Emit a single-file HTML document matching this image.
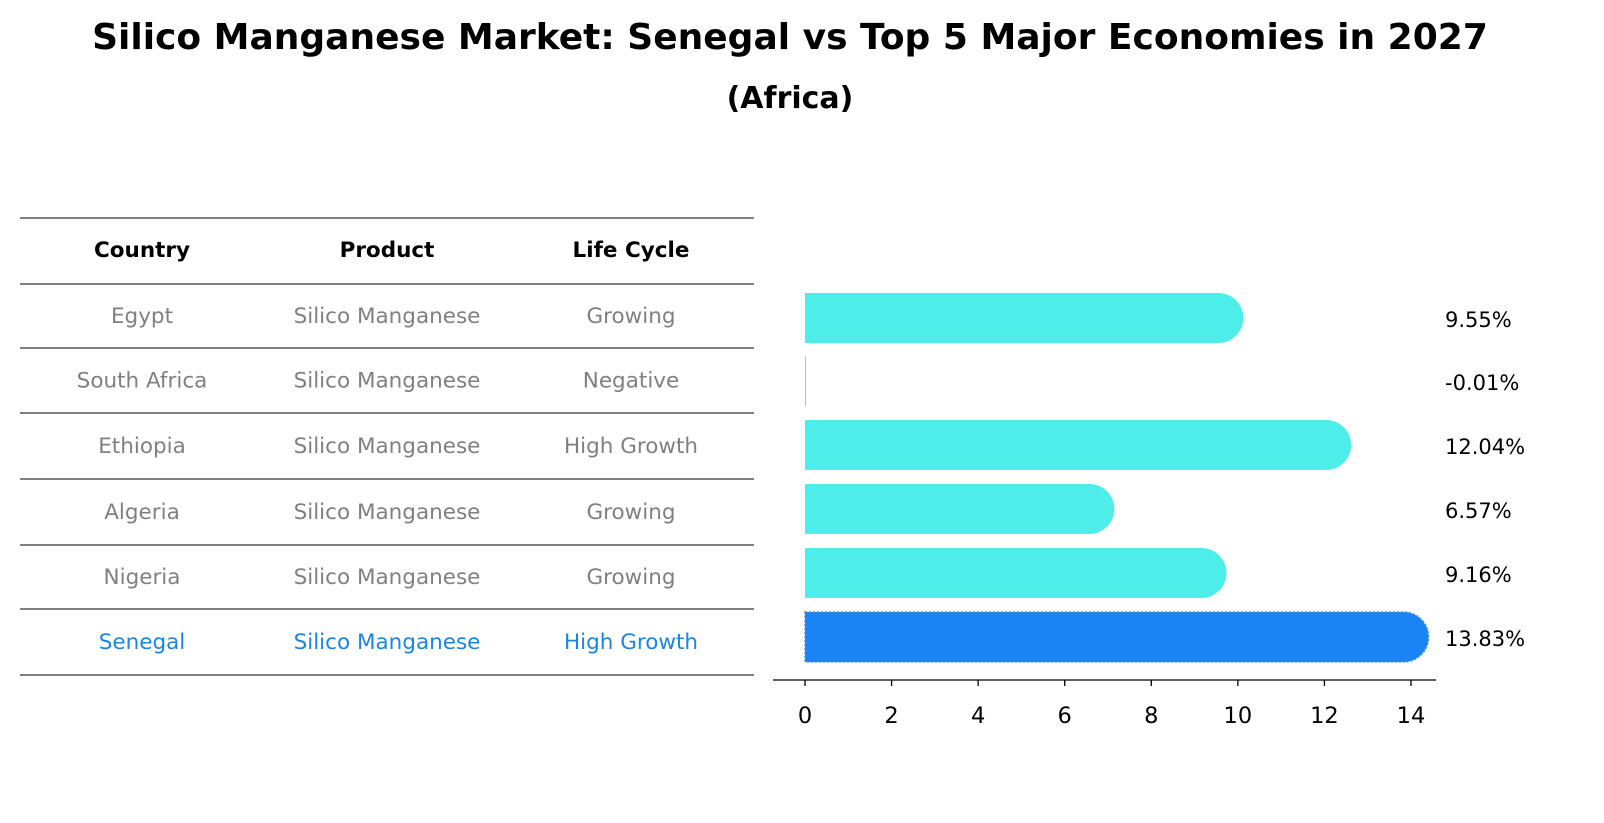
<!DOCTYPE html>
<html><head><meta charset="utf-8"><style>
html,body{margin:0;padding:0;background:#fff;overflow:hidden;width:1604px;height:823px;font-family:"Liberation Sans","DejaVu Sans",sans-serif;}
svg{display:block;}
svg text{font-family:"DejaVu Sans","Liberation Sans",sans-serif;}
</style></head><body>
<svg id="c" width="1604" height="823" xmlns="http://www.w3.org/2000/svg">
<text x="790" y="49" text-anchor="middle" font-size="36" font-weight="bold">Silico Manganese Market: Senegal vs Top 5 Major Economies in 2027</text>
<text x="790" y="108" text-anchor="middle" font-size="30" font-weight="bold">(Africa)</text>
<g id="table"></g>
<g id="bars"></g>
</svg>
<script>
const countries=["Egypt","South Africa","Ethiopia","Algeria","Nigeria","Senegal"];
const products=["Silico Manganese","Silico Manganese","Silico Manganese","Silico Manganese","Silico Manganese","Silico Manganese"];
const lifeCycles=["Growing","Negative","High Growth","Growing","Growing","High Growth"];
const values=[9.55,-0.01,12.04,6.57,9.16,13.83];
const ticks=[0,2,4,6,8,10,12,14];
const NS="http://www.w3.org/2000/svg";
function mk(tag,attrs,parent){const e=document.createElementNS(NS,tag);for(const k in attrs)e.setAttribute(k,attrs[k]);parent.appendChild(e);return e;}
const tbl=document.getElementById('table');
const lineYs=[218,284,348,413,479,545,609,675];
lineYs.forEach(y=>{const l=mk('line',{x1:20,x2:754,y1:y,y2:y,stroke:'#000','stroke-width':1},tbl);

});
const colX=[142,387,631];
["Country","Product","Life Cycle"].forEach((h,i)=>{const t=mk('text',{x:colX[i],y:257,'text-anchor':'middle','font-size':21.5,'font-weight':'bold'},tbl);t.textContent=h;

});
function rowY(i){return (lineYs[i+1]+lineYs[i+2])/2;}
countries.forEach((c,i)=>{const col=i===5?'#1a86e0':'#808080';
[c,products[i],lifeCycles[i]].forEach((v,j)=>{const t=mk('text',{x:colX[j],y:rowY(i)+7,'text-anchor':'middle','font-size':21.5,fill:col},tbl);t.textContent=v;

});});
const g=document.getElementById('bars');
const x0=805,x1=1411;
function xs(v){return x0+(v-0)*(x1-x0)/14;}
function ys(i){return [318,381,445,509,573,637][i];}
const h=50,r=25;
values.forEach((v,i)=>{const cy=ys(i);const col=i===5?'#1a84f5':'#4deeea';
const xe=xs(v);
if(v>0){
const p=mk('path',{d:`M${x0},${cy-h/2} L${xe},${cy-h/2} A${r},${r} 0 0 1 ${xe},${cy+h/2} L${x0},${cy+h/2} Z`,fill:col},g);
if(i===5){p.setAttribute('stroke','#4a90e2');p.setAttribute('stroke-dasharray','2,2');p.setAttribute('stroke-width','1.5');}


}else{
const p=mk('rect',{x:x0,y:cy-h/2,width:1,height:h,fill:col},g);

}
const t=mk('text',{x:1445,y:cy+9,'font-size':21},g);t.textContent=v.toFixed(2)+'%';

});
const ax=mk('line',{x1:773,x2:1436,y1:680,y2:680,stroke:'#000','stroke-width':1.3},g);


ticks.forEach(tv=>{const x=xs(tv);const tk=mk('line',{x1:x,x2:x,y1:680,y2:686,stroke:'#000','stroke-width':1.3},g);


const t=mk('text',{x:x,y:723,'text-anchor':'middle','font-size':22.5},g);t.textContent=tv;

});
</script>
</body></html>
